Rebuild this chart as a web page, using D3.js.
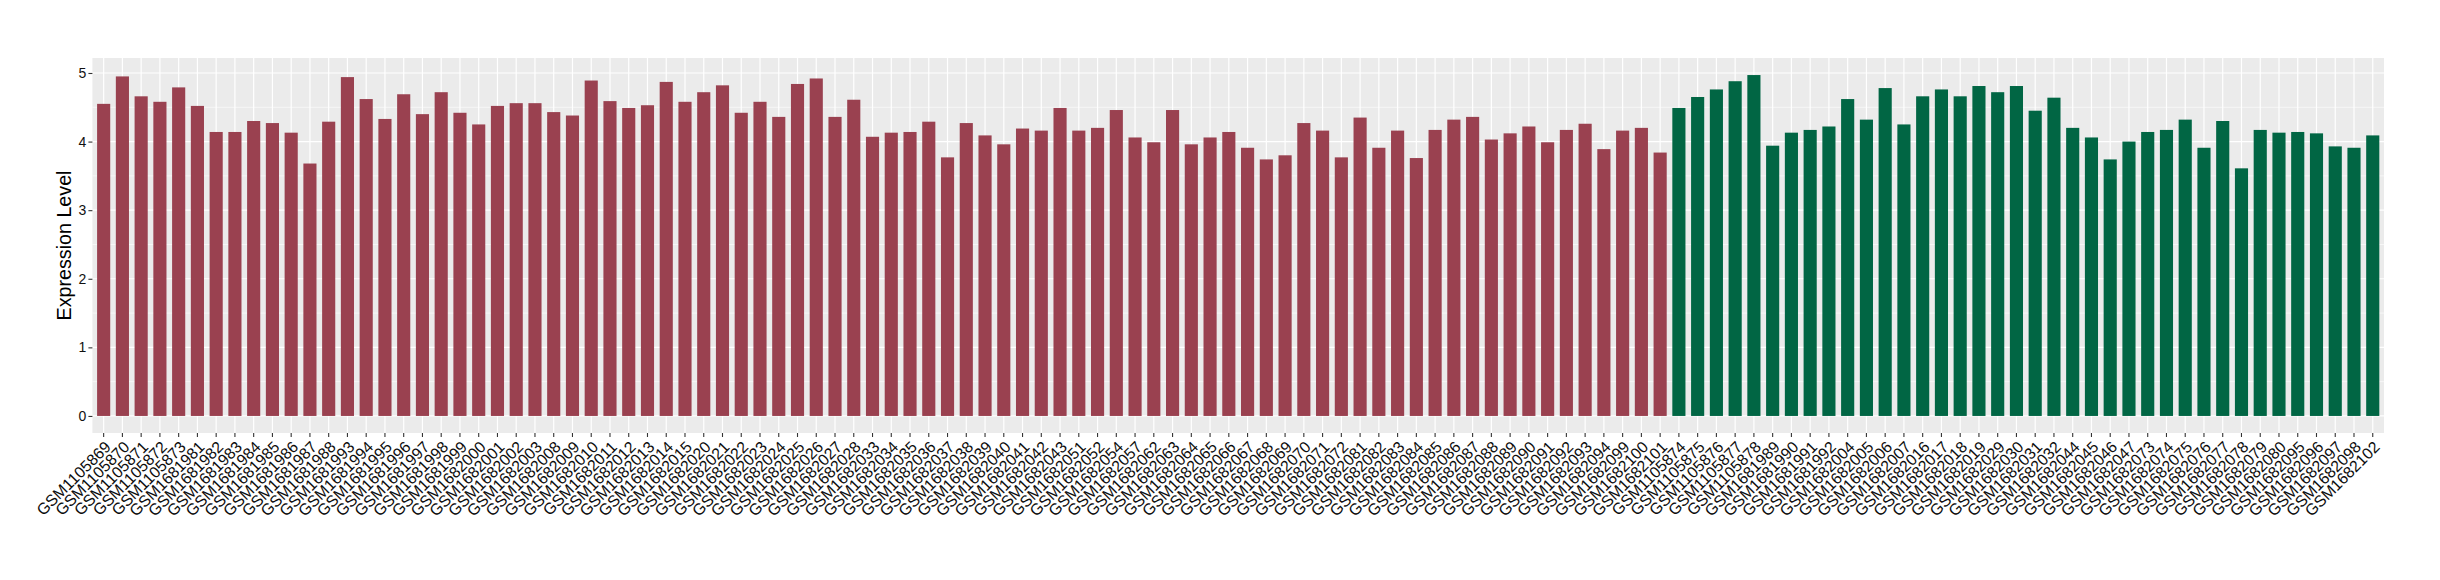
<!DOCTYPE html>
<html>
<head>
<meta charset="utf-8">
<script src="https://cdn.jsdelivr.net/npm/d3@7"></script>
<style>
  html, body { margin: 0; padding: 0; background: #ffffff; }
  svg { display: block; }
</style>
</head>
<body>
<svg id="chart" width="2440" height="580"></svg>
<script>
// ---- data ----
const group1Samples = [
  "GSM1105869","GSM1105870","GSM1105871","GSM1105872","GSM1105873",
  "GSM1681981","GSM1681982","GSM1681983","GSM1681984","GSM1681985","GSM1681986","GSM1681987","GSM1681988",
  "GSM1681993","GSM1681994","GSM1681995","GSM1681996","GSM1681997","GSM1681998","GSM1681999",
  "GSM1682000","GSM1682001","GSM1682002","GSM1682003",
  "GSM1682008","GSM1682009","GSM1682010","GSM1682011","GSM1682012","GSM1682013","GSM1682014","GSM1682015",
  "GSM1682020","GSM1682021","GSM1682022","GSM1682023","GSM1682024","GSM1682025","GSM1682026","GSM1682027","GSM1682028",
  "GSM1682033","GSM1682034","GSM1682035","GSM1682036","GSM1682037","GSM1682038","GSM1682039","GSM1682040","GSM1682041","GSM1682042","GSM1682043",
  "GSM1682051","GSM1682052","GSM1682054","GSM1682057",
  "GSM1682062","GSM1682063","GSM1682064","GSM1682065","GSM1682066","GSM1682067","GSM1682068","GSM1682069","GSM1682070","GSM1682071","GSM1682072",
  "GSM1682081","GSM1682082","GSM1682083","GSM1682084","GSM1682085","GSM1682086","GSM1682087","GSM1682088","GSM1682089","GSM1682090","GSM1682091","GSM1682092","GSM1682093","GSM1682094",
  "GSM1682099","GSM1682100","GSM1682101"
];
const group1Values = [
  4.55,4.95,4.66,4.58,4.79,
  4.52,4.14,4.14,4.30,4.27,4.13,3.68,4.29,
  4.94,4.62,4.33,4.69,4.40,4.72,4.42,
  4.25,4.52,4.56,4.56,
  4.43,4.38,4.89,4.59,4.49,4.53,4.87,4.58,
  4.72,4.82,4.42,4.58,4.36,4.84,4.92,4.36,4.61,
  4.07,4.13,4.14,4.29,3.77,4.27,4.09,3.96,4.19,4.16,4.49,
  4.16,4.20,4.46,4.06,
  3.99,4.46,3.96,4.06,4.14,3.91,3.74,3.80,4.27,4.16,3.77,
  4.35,3.91,4.16,3.76,4.17,4.32,4.36,4.03,4.12,4.22,3.99,4.17,4.26,3.89,
  4.16,4.20,3.84
];
const group2Samples = [
  "GSM1105874","GSM1105875","GSM1105876","GSM1105877","GSM1105878",
  "GSM1681989","GSM1681990","GSM1681991","GSM1681992",
  "GSM1682004","GSM1682005","GSM1682006","GSM1682007",
  "GSM1682016","GSM1682017","GSM1682018","GSM1682019",
  "GSM1682029","GSM1682030","GSM1682031","GSM1682032",
  "GSM1682044","GSM1682045","GSM1682046","GSM1682047",
  "GSM1682073","GSM1682074","GSM1682075","GSM1682076","GSM1682077","GSM1682078","GSM1682079","GSM1682080",
  "GSM1682095","GSM1682096","GSM1682097","GSM1682098",
  "GSM1682102"
];
const group2Values = [
  4.49,4.65,4.76,4.88,4.97,
  3.94,4.13,4.17,4.22,
  4.62,4.32,4.78,4.25,
  4.66,4.76,4.66,4.81,
  4.72,4.81,4.45,4.64,
  4.20,4.06,3.74,4.00,
  4.14,4.17,4.32,3.91,4.30,3.61,4.17,4.13,
  4.14,4.12,3.93,3.91,
  4.09
];
const yTicks = [0, 1, 2, 3, 4, 5];
const yMinorTicks = [0.5, 1.5, 2.5, 3.5, 4.5];
const yTitle = "Expression Level";
const group1Color = "#9a4150";
const group2Color = "#016644";

// ---- build table ----
const rows = group1Samples.map((s, i) => ({ sample: s, value: group1Values[i], group: 1 }))
  .concat(group2Samples.map((s, i) => ({ sample: s, value: group2Values[i], group: 2 })));

// ---- layout ----
const panel = { left: 92.4, right: 2384, top: 58, bottom: 433 };
const svg = d3.select("#chart");
const font = "'Liberation Sans', Arial, Helvetica, sans-serif";

const x = d3.scaleBand()
  .domain(rows.map(d => d.sample))
  .range([panel.left, panel.right])
  .paddingInner(0.3)
  .paddingOuter(0.25);

const maxV = d3.max(rows, d => d.value);
const pad = maxV * 0.05;
const y = d3.scaleLinear()
  .domain([-pad, maxV + pad])
  .range([panel.bottom, panel.top]);

// panel background
svg.append("rect")
  .attr("x", panel.left).attr("y", panel.top)
  .attr("width", panel.right - panel.left)
  .attr("height", panel.bottom - panel.top)
  .attr("fill", "#ebebeb");

// minor y grid
svg.append("g").selectAll("line").data(yMinorTicks).join("line")
  .attr("x1", panel.left).attr("x2", panel.right)
  .attr("y1", d => y(d)).attr("y2", d => y(d))
  .attr("stroke", "#ffffff").attr("stroke-width", 0.6);

// major y grid
svg.append("g").selectAll("line").data(yTicks).join("line")
  .attr("x1", panel.left).attr("x2", panel.right)
  .attr("y1", d => y(d)).attr("y2", d => y(d))
  .attr("stroke", "#ffffff").attr("stroke-width", 1.2);

// major x grid
svg.append("g").selectAll("line").data(rows).join("line")
  .attr("y1", panel.top).attr("y2", panel.bottom)
  .attr("x1", d => x(d.sample) + x.bandwidth() / 2)
  .attr("x2", d => x(d.sample) + x.bandwidth() / 2)
  .attr("stroke", "#ffffff").attr("stroke-width", 1.2);

// bars
svg.append("g").selectAll("rect").data(rows).join("rect")
  .attr("x", d => x(d.sample))
  .attr("width", x.bandwidth())
  .attr("y", d => y(d.value))
  .attr("height", d => y(0) - y(d.value))
  .attr("fill", d => d.group === 1 ? group1Color : group2Color);

// y axis
const yAxis = d3.axisLeft(y).tickValues(yTicks).tickSize(4).tickPadding(2).tickFormat(d3.format("d"));
const gy = svg.append("g").attr("transform", `translate(${panel.left},0)`).call(yAxis);
gy.select(".domain").remove();
gy.selectAll(".tick line").attr("stroke", "#333333").attr("stroke-width", 1.1);
gy.selectAll(".tick text")
  .attr("font-family", font)
  .attr("font-size", 14).attr("fill", "#111111");

// x axis
const xAxis = d3.axisBottom(x).tickSize(4).tickSizeOuter(0).tickPadding(0);
const gx = svg.append("g").attr("transform", `translate(0,${panel.bottom})`).call(xAxis);
gx.select(".domain").remove();
gx.selectAll(".tick line").attr("stroke", "#333333").attr("stroke-width", 1.1);
gx.selectAll(".tick text")
  .attr("font-family", font)
  .attr("font-size", 15.9).attr("fill", "#0d0d0d")
  .attr("text-anchor", "end")
  .attr("y", 0).attr("dy", "0.71em")
  .attr("transform", "translate(0,7) rotate(-45)");

// y title
svg.append("text")
  .attr("transform", `translate(71,${(panel.top + panel.bottom) / 2}) rotate(-90)`)
  .attr("text-anchor", "middle")
  .attr("font-family", font)
  .attr("font-size", 19.7).attr("fill", "#000000")
  .text(yTitle);
</script>
</body>
</html>
